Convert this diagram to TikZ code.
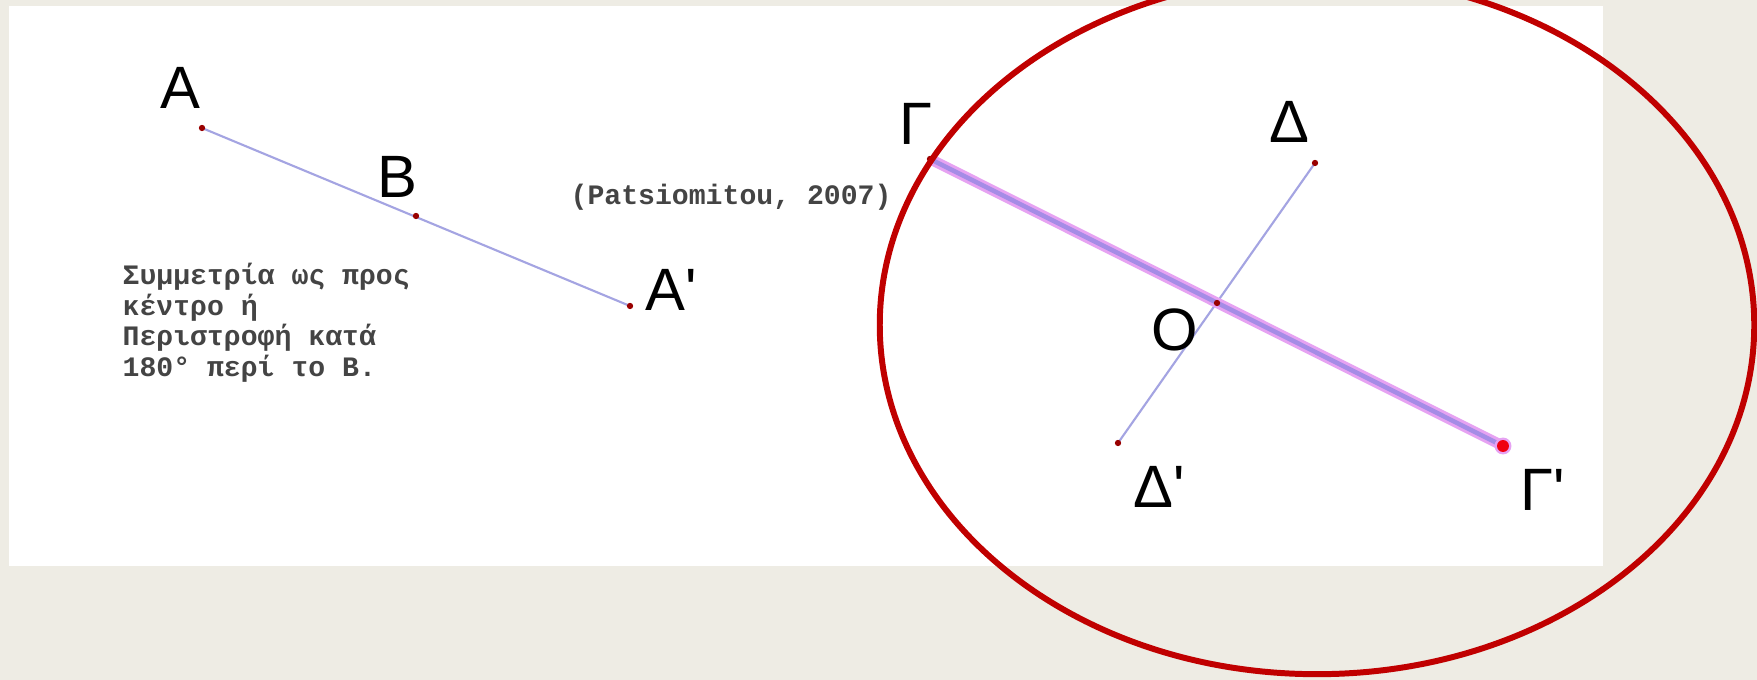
\documentclass[tikz,border=0pt]{standalone}
\usepackage{fontspec}
\usepackage{xcolor}
\usepackage{tikz}
\usetikzlibrary{positioning, calc}
\newfontfamily\lblfont{Liberation Sans}
\newfontfamily\notefont{Liberation Mono}
\definecolor{pagebeige}{HTML}{EEECE4}
\definecolor{ptred}{HTML}{990000}
\definecolor{seglilac}{HTML}{A4A4E2}
\definecolor{glowpink}{HTML}{E6A2F2}
\definecolor{corepurple}{HTML}{A58CE6}
\definecolor{ringred}{HTML}{C00000}
\definecolor{notegray}{HTML}{444444}

\begin{document}
\begin{tikzpicture}[x=0.01cm, y=-0.01cm,
    lbl/.style={font=\lblfont\fontsize{17}{20}\selectfont, inner sep=0pt},
    note/.style={font=\notefont\bfseries\fontsize{8}{8.8}\selectfont,
                 text=notegray, inner sep=0pt, align=left},
    seg/.style={draw=seglilac, line width=0.6pt},
    pt/.style={fill=ptred}]
  \useasboundingbox (0,0) rectangle (1757,680);
  \clip (0,0) rectangle (1757,680);
  \fill[pagebeige] (0,0) rectangle (1757,680);
  \fill[white] (9,6) rectangle (1603,566);

  % points
  \coordinate (A) at (202,128);
  \coordinate (B) at (416,216);
  \coordinate (A') at (630,306);
  \coordinate (G) at (930,159);
  \coordinate (G') at (1503,446);
  \coordinate (D) at (1315,163);
  \coordinate (D') at (1118,443);
  \coordinate (O) at (1217,303);

  % segments
  \draw[seg] (A) -- (A');
  \draw[seg] (D) -- (D');
  \draw[draw=glowpink, line width=3pt] (G) -- (G');
  \draw[draw=corepurple, line width=1.3pt] (G) -- (G');

  \foreach \p in {A, B, A', G, D, D', O}
    \fill[pt] (\p) circle[radius=0.9pt];
  \fill[glowpink] (G') circle[radius=2.4pt];
  \fill[red!75!purple] (G') circle[radius=1.7pt];

  % labels
  \node[lbl] (lA) at (180,88) {A};
  \node[lbl] (lB) at (397,177) {B};
  \node[lbl, anchor=west] (lA') at (645,290) {A'};
  \node[lbl] (lG) at (916,124) {Γ};
  \node[lbl] (lD) at (1289,122) {Δ};
  \node[lbl] (lO) at (1175,330) {O};
  \node[lbl, anchor=west] (lD') at (1133,487) {Δ'};
  \node[lbl, anchor=west] (lG') at (1520,490) {Γ'};

  \node[note, anchor=north west] (rule) at (122,262)
    {Συμμετρία ως προς\\κέντρο ή\\Περιστροφή κατά\\180° περί το Β.};
  \node[note, anchor=base west] (cite) at (570,205) {(Patsiomitou, 2007)};

  % highlight ring
  \draw[ringred, line width=1.7pt] (1317,325) ellipse [x radius=4.37cm, y radius=3.49cm];
\end{tikzpicture}
\end{document}
